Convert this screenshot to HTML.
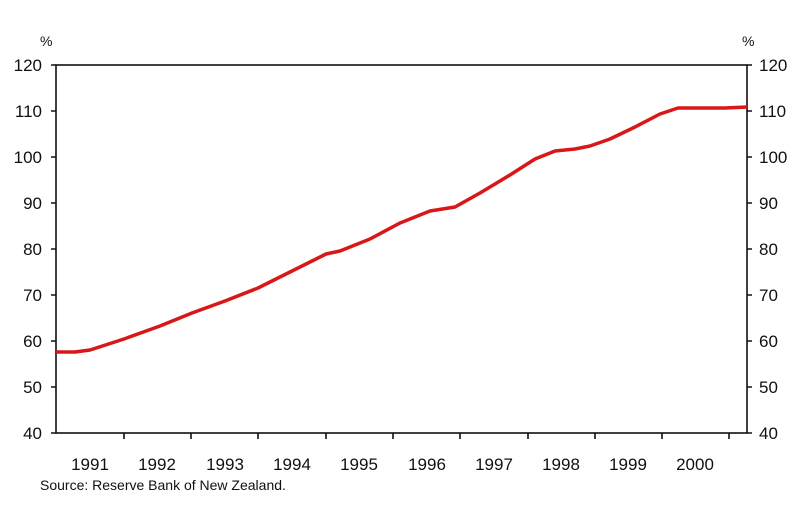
<!DOCTYPE html>
<html><head><style>body{margin:0;background:#fff}svg{display:block}text{font-family:"Liberation Sans",sans-serif;fill:#111}</style></head><body>
<svg width="800" height="510" xmlns="http://www.w3.org/2000/svg">
<g font-size="17">
<text x="40" y="46" font-size="14">%</text>
<text x="742" y="46" font-size="14">%</text>
<g text-anchor="end">
<text x="42" y="71">120</text><text x="42" y="117">110</text><text x="42" y="163">100</text><text x="42" y="209">90</text><text x="42" y="255">80</text><text x="42" y="301">70</text><text x="42" y="347">60</text><text x="42" y="393">50</text><text x="42" y="439">40</text>
</g>
<g>
<text x="759" y="71">120</text><text x="759" y="117">110</text><text x="759" y="163">100</text><text x="759" y="209">90</text><text x="759" y="255">80</text><text x="759" y="301">70</text><text x="759" y="347">60</text><text x="759" y="393">50</text><text x="759" y="439">40</text>
</g>
<g text-anchor="middle">
<text x="90" y="470">1991</text><text x="157" y="470">1992</text><text x="225" y="470">1993</text><text x="292" y="470">1994</text><text x="359" y="470">1995</text><text x="427" y="470">1996</text><text x="494" y="470">1997</text><text x="561" y="470">1998</text><text x="628" y="470">1999</text><text x="695" y="470">2000</text>
</g>
<text x="40" y="490" font-size="14">Source: Reserve Bank of New Zealand.</text>
</g>
<g stroke="#111" stroke-width="1.6" fill="none">
<rect x="56" y="65" width="691" height="368"/>
<path d="M51 65h5M51 111h5M51 157h5M51 203h5M51 249h5M51 295h5M51 341h5M51 387h5M51 433h5"/>
<path d="M747 65h5M747 111h5M747 157h5M747 203h5M747 249h5M747 295h5M747 341h5M747 387h5M747 433h5"/>
<path d="M124 433v6M191 433v6M258 433v6M326 433v6M393 433v6M460 433v6M528 433v6M595 433v6M662 433v6M729 433v6"/>
</g>
<polyline fill="none" stroke="#d81818" stroke-width="3.5" stroke-linejoin="round" points="56,352 75,352 90,350 124,339 160,326 192,313 225,301 258,288 290,272 326,254 340,251 370,239 400,223 430,211 455,207 480,193 510,175 535,159 555,151 575,149 590,146 610,139 635,127 660,114 678,108 725,108 747,107"/>
</svg>
</body></html>
